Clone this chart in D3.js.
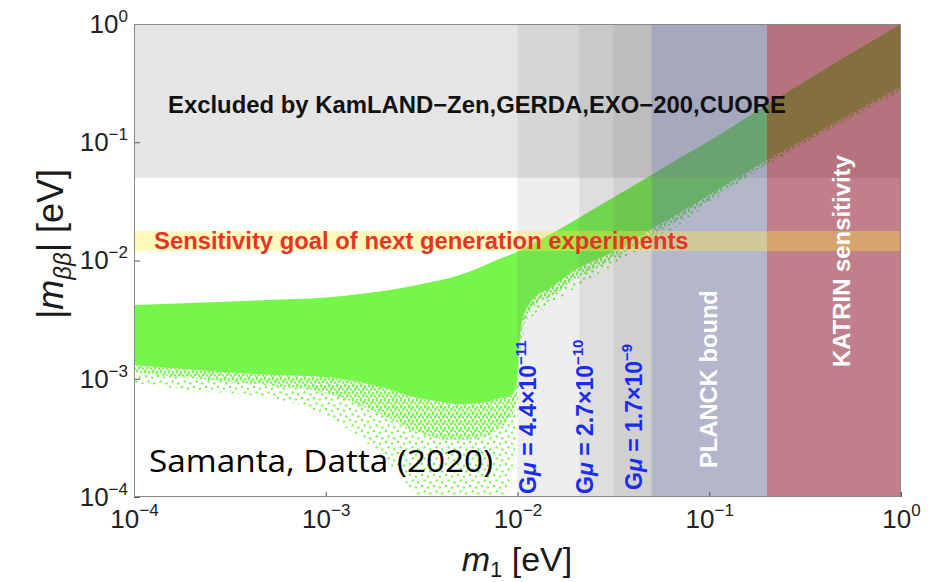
<!DOCTYPE html>
<html>
<head>
<meta charset="utf-8">
<script src="https://cdn.jsdelivr.net/npm/d3@7"></script>
<style>
  body { margin: 0; background: #fff; }
  svg { display: block; }
</style>
</head>
<body>
<svg id="chart" width="932" height="582"></svg>
<script>
// Lightest neutrino mass grid (eV) and the edges of the allowed |m_bb| region (eV)
const m1Grid       = [1e-4, 2e-4, 5e-4, 1e-3, 1.5e-3, 2e-3, 3e-3, 4e-3, 5e-3, 7e-3, 8e-3, 9e-3, 9.8e-3, 1.05e-2, 1.2e-2, 1.5e-2, 2e-2, 3e-2, 5e-2, 7e-2, 0.1, 0.2, 0.5, 1];
const upperEdge    = [0.0042, 0.00437, 0.00463, 0.00486, 0.00521, 0.00552, 0.00621, 0.00684, 0.00754, 0.00934, 0.0103, 0.0111, 0.0117, 0.0124, 0.0139, 0.0168, 0.022, 0.0325, 0.0528, 0.0736, 0.1025, 0.2066, 0.515, 1.0];
const denseLower   = [0.00131, 0.00119, 0.00108, 0.00103, 0.00094, 0.00084, 0.00069, 0.00064, 0.00061, 0.00064, 0.00068, 0.0007, 0.00085, 0.003, 0.00463, 0.0059, 0.00831, 0.01135, 0.01846, 0.0252, 0.0358, 0.0708, 0.16, 0.299];
const speckleLower = [0.00114, 0.00101, 0.00088, 0.00076, 0.0006, 0.00049, 0.000355, 0.00031, 0.000303, 0.00033, 0.00038, 0.00045, 0.0006, 0.0025, 0.004, 0.005, 0.007, 0.0099, 0.016, 0.0225, 0.0325, 0.066, 0.15, 0.28];
const sparseLower  = [0.00092, 0.0008, 0.00069, 0.00049, 0.00032, 0.000214, 0.000104, 0.00007, 0.00006, 0.00006, 0.00007, 0.00012, 0.0003, 0.002, 0.0034, 0.0042, 0.0059, 0.0087, 0.0141, 0.02, 0.0306, 0.063, 0.1455, 0.266];

// Bounds (eV)
const excludedBand    = [0.05, 1];
const sensitivityBand = [0.012, 0.0178];
const gmuStarts       = [0.01, 0.021, 0.0316];
const gmuMantissa     = ["4.4", "2.7", "1.7"];
const gmuExponent     = ["−11", "−10", "−9"];
const gmuEnd          = 0.05;
const planckBand      = [0.05, 0.2];
const katrinBand      = [0.2, 1];

// Axis ticks
const xTicks = [1e-4, 1e-3, 1e-2, 1e-1, 1];
const yTicks = [1e-4, 1e-3, 1e-2, 1e-1, 1];

const svg = d3.select("#chart");
const L = 134, R = 901, T = 24, B = 497;
const x = d3.scaleLog().domain([1e-4, 1]).range([L, R]);
const y = d3.scaleLog().domain([1e-4, 1]).range([B, T]);
const SANS = "'Liberation Sans', Arial, Helvetica, sans-serif";
const GREEN = "#76f54b";

const defs = svg.append("defs");
defs.append("clipPath").attr("id", "plot-clip")
  .append("rect").attr("x", L).attr("y", T).attr("width", R - L).attr("height", B - T);

// scattered-point textures for the thinning edge of the region
const pMid = defs.append("pattern").attr("id", "speck-mid")
  .attr("patternUnits", "userSpaceOnUse").attr("width", 8).attr("height", 7);
[[1, 1.2], [5.2, 0.6], [3, 4], [6.9, 4.6], [1.3, 6.4], [4.6, 2.4]].forEach(([cx, cy]) =>
  pMid.append("circle").attr("cx", cx).attr("cy", cy).attr("r", 1.25).attr("fill", GREEN));
const pSparse = defs.append("pattern").attr("id", "speck-sparse")
  .attr("patternUnits", "userSpaceOnUse").attr("width", 12).attr("height", 11);
[[2, 2], [8, 3.6], [4.6, 7.4], [10.3, 9.4]].forEach(([cx, cy]) =>
  pSparse.append("circle").attr("cx", cx).attr("cy", cy).attr("r", 1.2).attr("fill", GREEN));

const plot = svg.append("g").attr("clip-path", "url(#plot-clip)");

// allowed region: solid core, then thinning scatter toward the lower edge
const rows = m1Grid.map((m, i) => ({ m, up: upperEdge[i], dl: denseLower[i], sl: speckleLower[i], pl: sparseLower[i] }));
const band = (top, bot) => d3.area().x(d => x(d.m)).y1(d => y(d[top])).y0(d => y(d[bot])).curve(d3.curveMonotoneX);
plot.append("path").datum(rows).attr("d", band("sl", "pl")).attr("fill", "url(#speck-sparse)");
plot.append("path").datum(rows).attr("d", band("dl", "sl")).attr("fill", "url(#speck-mid)");
plot.append("path").datum(rows).attr("d", band("up", "dl")).attr("fill", GREEN);

// translucent exclusion / sensitivity bands
const vband = (lo, hi, fill, op) => plot.append("rect")
  .attr("x", x(lo)).attr("width", x(hi) - x(lo)).attr("y", T).attr("height", B - T)
  .attr("fill", fill).attr("fill-opacity", op);
const hband = (lo, hi, fill, op) => plot.append("rect")
  .attr("x", L).attr("width", R - L).attr("y", y(hi)).attr("height", y(lo) - y(hi))
  .attr("fill", fill).attr("fill-opacity", op);

hband(excludedBand[0], excludedBand[1], "#888888", 0.22);
gmuStarts.forEach(s => vband(s, gmuEnd, "#555555", 0.1));
vband(planckBand[0], planckBand[1], "rgb(89,93,142)", 0.45);
vband(katrinBand[0], katrinBand[1], "rgb(140,22,44)", 0.55);
hband(sensitivityBand[0], sensitivityBand[1], "rgb(255,235,60)", 0.35);

// fit a text element's width to a given span
function fitWidth(sel, size, span) {
  sel.attr("font-size", size);
  const w = sel.node().getComputedTextLength();
  sel.attr("font-size", size * span / w);
}

const excl = svg.append("text").attr("x", 168).attr("y", 113)
  .attr("font-family", SANS).attr("font-weight", "bold").attr("fill", "#111")
  .text("Excluded by KamLAND−Zen,GERDA,EXO−200,CUORE");
fitWidth(excl, 22, 618);

const sens = svg.append("text").attr("x", 154).attr("y", 249)
  .attr("font-family", SANS).attr("font-weight", "bold").attr("fill", "rgb(232,52,38)")
  .text("Sensitivity goal of next generation experiments");
fitWidth(sens, 20, 535);

// Gμ labels along each band boundary
const gmuPos = [[536, 494], [593, 494], [642, 490]];
gmuStarts.forEach((s, i) => {
  const t = svg.append("text")
    .attr("transform", `translate(${gmuPos[i][0]},${gmuPos[i][1]}) rotate(-90)`)
    .attr("font-family", SANS).attr("font-weight", "bold").attr("font-size", 23)
    .attr("fill", "#1a2cf0");
  t.append("tspan").text("G");
  t.append("tspan").attr("font-style", "italic").text("μ");
  t.append("tspan").text(` = ${gmuMantissa[i]}×10`);
  t.append("tspan").attr("font-size", 15).attr("dy", -10).text(gmuExponent[i]);
});

const planck = svg.append("text").attr("transform", "translate(717,468) rotate(-90)")
  .attr("font-family", SANS).attr("font-weight", "bold").attr("fill", "#fff")
  .text("PLANCK bound");
fitWidth(planck, 23, 178);

const katrin = svg.append("text").attr("transform", "translate(850,367) rotate(-90)")
  .attr("font-family", SANS).attr("font-weight", "bold").attr("fill", "#fff")
  .text("KATRIN sensitivity");
fitWidth(katrin, 23, 212);

svg.append("text").attr("x", 149).attr("y", 472)
  .attr("font-family", "'Open Sans', 'Noto Sans', sans-serif").attr("font-size", 31)
  .attr("fill", "#000").attr("textLength", 344).attr("lengthAdjust", "spacingAndGlyphs")
  .text("Samanta, Datta (2020)");

// axes with power-of-ten labels
function powerLabel(textSel, raise) {
  textSel.each(function (v) {
    const e = Math.round(Math.log10(v));
    const t = d3.select(this).text(null);
    t.append("tspan").text("10");
    t.append("tspan").attr("font-size", 17).attr("dy", -raise).text(e === 0 ? "0" : "−" + (-e));
  });
}

const xAxis = svg.append("g").attr("transform", `translate(0,${B})`)
  .call(d3.axisBottom(x).tickValues(xTicks).tickSizeInner(-5).tickSizeOuter(0).tickPadding(6));
const yAxis = svg.append("g").attr("transform", `translate(${L},0)`)
  .call(d3.axisLeft(y).tickValues(yTicks).tickSizeInner(-6).tickSizeOuter(0).tickPadding(6));
[xAxis, yAxis].forEach(a => {
  a.select(".domain").remove();
  a.selectAll(".tick line").attr("stroke", "#555");
  a.selectAll(".tick text").attr("font-family", SANS).attr("font-size", 26).attr("fill", "#222");
});
xAxis.selectAll(".tick text").attr("y", 31).attr("dy", 0).call(powerLabel, 12);
yAxis.selectAll(".tick text").call(powerLabel, 11);

// frame
svg.append("rect").attr("x", L + 0.5).attr("y", T + 0.5).attr("width", R - L - 1).attr("height", B - T - 1)
  .attr("fill", "none").attr("stroke", "#8a8a8a").attr("stroke-width", 1);

// axis titles
const xl = svg.append("text").attr("x", 517).attr("y", 571).attr("text-anchor", "middle")
  .attr("font-family", SANS).attr("font-size", 34).attr("fill", "#1a1a1a");
xl.append("tspan").attr("font-style", "italic").text("m");
xl.append("tspan").attr("font-size", 22).attr("dy", 6).text("1");
xl.append("tspan").attr("dy", -6).text(" [eV]");

const yl = svg.append("text").attr("transform", "translate(63,244) rotate(-90)").attr("text-anchor", "middle")
  .attr("font-family", SANS).attr("font-size", 36).attr("fill", "#1a1a1a");
yl.append("tspan").text("|");
yl.append("tspan").attr("font-style", "italic").text("m");
yl.append("tspan").attr("font-size", 24).attr("font-style", "italic").attr("dy", 8).text("ββ");
yl.append("tspan").attr("dy", -8).text("| [eV]");
</script>
</body>
</html>
